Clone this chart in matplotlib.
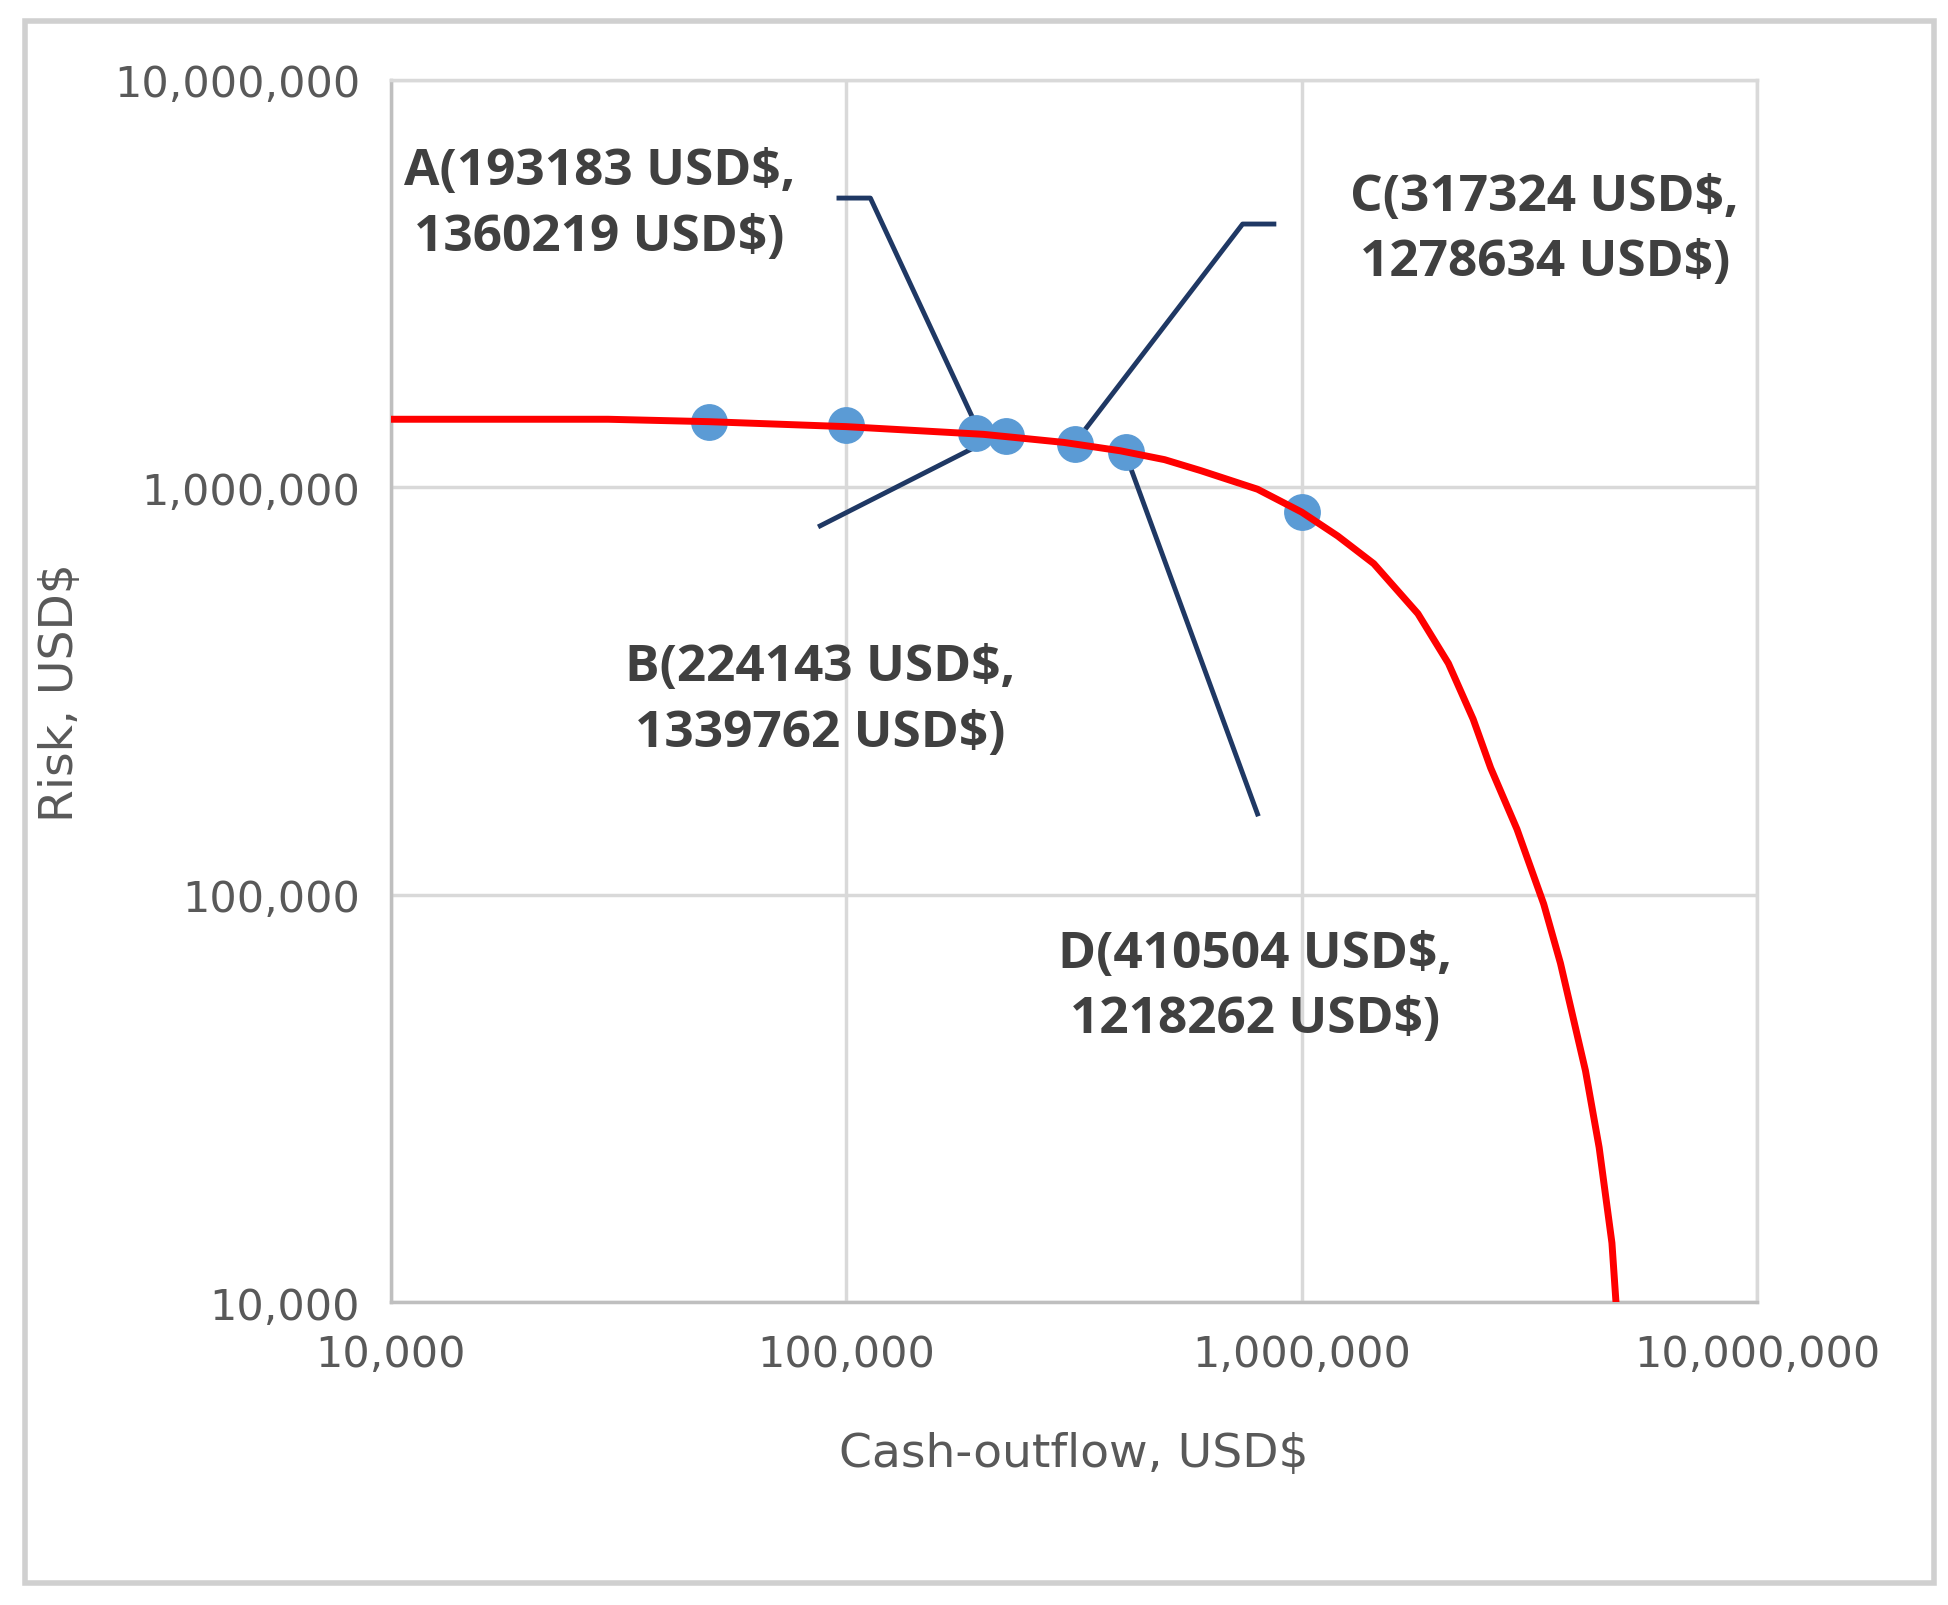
import matplotlib
matplotlib.use("Agg")
import matplotlib.pyplot as plt
from matplotlib.patches import Rectangle

pts_x = [50000, 100000, 193183, 224143, 317324, 410504, 1000000]
pts_y = [1450000, 1420000, 1360219, 1339762, 1278634, 1218262, 870000]
curve_x = [1e4, 3e4, 5e4, 1e5, 2e5, 3e5, 4e5, 5e5, 6e5, 8e5, 1e6, 1.2e6, 1.44e6, 1.8e6, 2.1e6, 2.38e6,
           2.6e6, 2.97e6, 3.4e6, 3.7e6, 4.2e6, 4.5e6, 4.8e6, 4.9e6]
curve_y = [1.47e6, 1.47e6, 1.45e6, 1.41e6, 1.35e6, 1.29e6, 1.23e6, 1.17e6, 1.1e6, 9.9e5, 8.7e5, 7.6e5, 6.5e5,
           4.9e5, 3.7e5, 2.7e5, 2.05e5, 1.45e5, 9.5e4, 6.8e4, 3.7e4, 2.4e4, 1.4e4, 1.0e4]
labels = ["A(193183 USD$,\n1360219 USD$)", "B(224143 USD$,\n1339762 USD$)",
          "C(317324 USD$,\n1278634 USD$)", "D(410504 USD$,\n1218262 USD$)"]
label_pos = [(2.87e4, 4.96e6), (8.77e4, 3.01e5), (3.42e6, 4.3e6), (7.9e5, 5.97e4)]
leaders = [
    ([9.64e4, 1.13e5, 1.97e5], [5.13e6, 5.13e6, 1.35e6]),
    ([8.77e4, 2.04e5], [8.05e5, 1.30e6]),
    ([8.69e5, 7.42e5, 3.2e5], [4.43e6, 4.43e6, 1.3e6]),
    ([4.07e5, 8.0e5], [1.24e6, 1.58e5]),
]
ticks = [1e4, 1e5, 1e6, 1e7]
tick_labels = ["10,000", "100,000", "1,000,000", "10,000,000"]

fig = plt.figure(figsize=(19.48, 16.06), dpi=100)
ax = fig.add_axes([0.2006, 0.1884, 0.7014, 0.7612])
ax.set_xscale("log"); ax.set_yscale("log")
ax.set_xlim(1e4, 1e7); ax.set_ylim(1e4, 1e7)
ax.grid(True, which="major", color="#d9d9d9", lw=2.5)
ax.minorticks_off()
for s in ax.spines.values():
    s.set_color("#d9d9d9"); s.set_linewidth(2.5)
ax.spines["left"].set_color("#bfbfbf"); ax.spines["bottom"].set_color("#bfbfbf")
ax.set_xticks(ticks); ax.set_xticklabels(tick_labels)
ax.set_yticks(ticks); ax.set_yticklabels(tick_labels)
ax.tick_params(length=0, labelsize=31, colors="#595959", pad=22)
ax.set_xlabel("Cash-outflow, USD$", fontsize=34, color="#595959", labelpad=40)
ax.set_ylabel("Risk, USD$", fontsize=34, color="#595959", labelpad=22)

for lx, ly in leaders:
    ax.plot(lx, ly, color="#1f3864", lw=3.5, zorder=2)
ax.scatter(pts_x, pts_y, s=650, color="#5b9bd5", zorder=3)
ax.plot(curve_x, curve_y, color="#ff0000", lw=5, zorder=4)
for lab, (tx, ty) in zip(labels, label_pos):
    ax.text(tx, ty, lab, ha="center", va="center", fontsize=37, fontweight="bold",
            color="#404040", linespacing=1.4, family="Open Sans")

fig.patches.append(Rectangle((0.013, 0.014), 0.98, 0.972, transform=fig.transFigure,
                             fill=False, edgecolor="#d0d0d0", lw=4))
fig.savefig("out.png", dpi=100)
